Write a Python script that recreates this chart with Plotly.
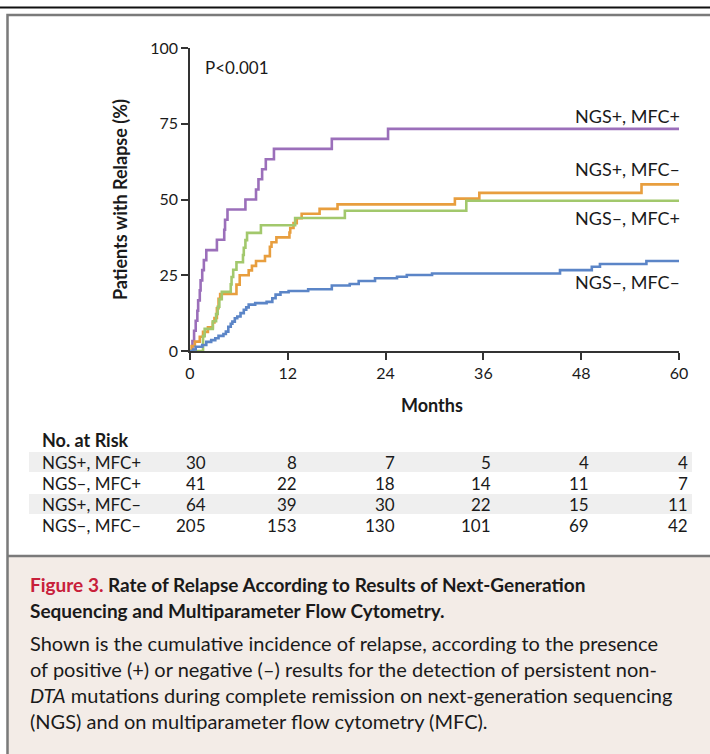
import plotly.graph_objects as go

W, H = 710, 754

# ---- data ----
months_ticks = [0, 12, 24, 36, 48, 60]
y_ticks = [0, 25, 50, 75, 100]

purple_t = [0, 0.3, 0.5, 0.7, 0.9, 1.0, 1.2, 1.3, 1.5, 1.7, 2.0, 3.3, 4.2, 4.3, 4.6, 6.8, 8.1, 8.4, 8.85, 9.3, 10.3, 17.4, 24.3, 60]
purple_y = [0, 3.3, 6.7, 10.0, 13.3, 16.7, 20.0, 23.3, 26.7, 30.0, 33.3, 36.7, 40.0, 43.3, 46.7, 50.0, 53.3, 56.7, 60.0, 63.3, 66.7, 70.0, 73.3, 73.3]

orange_t = [0, 0.2, 0.6, 1.2, 1.6, 2.2, 2.8, 3.0, 3.3, 3.5, 3.7, 5.7, 6.1, 7.2, 7.6, 8.1, 9.2, 9.8, 10.0, 10.6, 12.2, 12.3, 12.7, 13.1, 13.7, 15.9, 18.1, 32.5, 35.5, 55.4, 60]
orange_y = [0, 1.6, 3.1, 4.7, 6.3, 7.8, 9.4, 10.9, 14.1, 17.2, 18.8, 21.9, 25.0, 26.6, 28.1, 29.7, 31.3, 34.4, 35.9, 37.5, 39.1, 40.6, 42.2, 43.8, 45.3, 46.9, 48.4, 50.3, 52.2, 55.0, 55.0]

green_t = [0, 1.6, 1.8, 2.8, 3.2, 3.4, 3.6, 3.9, 5.0, 5.1, 5.3, 5.7, 6.5, 6.6, 6.8, 7.0, 8.7, 12.9, 19.0, 33.9, 60]
green_y = [0, 4.9, 7.3, 9.8, 12.2, 14.6, 17.1, 19.5, 22.0, 24.4, 26.8, 29.3, 31.7, 34.1, 36.6, 39.0, 41.5, 43.9, 46.3, 49.6, 49.6]

blue_t = [0, 0.4, 0.7, 1.5, 2.0, 2.6, 3.1, 3.5, 4.1, 4.4, 4.7, 5.0, 5.2, 5.5, 5.8, 6.2, 6.6, 6.9, 7.2, 8.0, 9.4, 10.1, 10.5, 11.1, 12.1, 14.5, 17.4, 19.6, 20.7, 22.7, 25.4, 26.6, 29.7, 45.4, 49.3, 50.3, 56.0, 60]
blue_y = [0, 0.5, 1.4, 2.0, 3.0, 3.6, 4.2, 5.0, 5.6, 6.4, 8.0, 9.0, 9.7, 10.8, 11.4, 12.5, 13.6, 14.4, 15.3, 15.8, 16.2, 17.4, 18.6, 19.4, 19.8, 20.4, 21.6, 22.1, 23.1, 24.0, 24.5, 25.1, 25.6, 26.7, 27.8, 28.7, 29.7, 29.7]

series_names = ["NGS+, MFC+", "NGS+, MFC\u2013", "NGS\u2013, MFC+", "NGS\u2013, MFC\u2013"]
series_colors = ["#9b6fba", "#e89e3e", "#a2c86c", "#5b85c7"]

risk_labels = ["NGS+, MFC+", "NGS\u2013, MFC+", "NGS+, MFC\u2013", "NGS\u2013, MFC\u2013"]
risk_values = [
    [30, 8, 7, 5, 4, 4],
    [41, 22, 18, 14, 11, 7],
    [64, 39, 30, 22, 15, 11],
    [205, 153, 130, 101, 69, 42],
]

# ---- helpers (window pixel -> paper) ----
def fx(px):
    return px / W

def fy(py):
    return 1 - py / H

X0, X1 = 190, 679
Y0, Y1 = 351, 48

CHART_FONT = "Lato, 'Open Sans', sans-serif"

fig = go.Figure()
for t, y, name, col in [
    (purple_t, purple_y, series_names[0], series_colors[0]),
    (orange_t, orange_y, series_names[1], series_colors[1]),
    (green_t, green_y, series_names[2], series_colors[2]),
    (blue_t, blue_y, series_names[3], series_colors[3]),
]:
    fig.add_trace(go.Scatter(x=t, y=y, mode="lines", line=dict(color=col, width=2.6, shape="hv"),
                             name=name, showlegend=False, hoverinfo="skip"))

shapes = []
shapes.append(dict(type="line", xref="paper", yref="paper", x0=0, x1=1, y0=fy(7.5), y1=fy(7.5),
                   line=dict(color="#111", width=2)))
shapes.append(dict(type="rect", xref="paper", yref="paper", x0=fx(7), x1=fx(720), y0=fy(770), y1=fy(556),
                   fillcolor="#f3ece7", line=dict(width=0), layer="below"))
shapes.append(dict(type="rect", xref="paper", yref="paper", x0=fx(7.5), x1=fx(720), y0=fy(770), y1=fy(15),
                   line=dict(color="#7a7a7a", width=2.5), fillcolor="rgba(0,0,0,0)"))
shapes.append(dict(type="line", xref="paper", yref="paper", x0=fx(7.5), x1=fx(720), y0=fy(556), y1=fy(556),
                   line=dict(color="#7a7a7a", width=2.5)))
for top in (452, 494):
    shapes.append(dict(type="rect", xref="paper", yref="paper", x0=fx(29), x1=fx(692), y0=fy(top + 20), y1=fy(top),
                       fillcolor="#efefef", line=dict(width=0), layer="below"))

annotations = []
def txt(x, y, s, size=14, xanchor="left", family=CHART_FONT, color="#1a1a1a", **kw):
    annotations.append(dict(xref="paper", yref="paper", x=fx(x), y=fy(y), text=s, showarrow=False,
                            xanchor=xanchor, yanchor="middle", borderpad=0,
                            font=dict(size=size, family=family, color=color), **kw))

txt(204, 68, "P<0.001", size=17)
label_y = [116, 169, 218, 282]
for s, yy in zip(series_names, label_y):
    txt(681, yy, s, size=18, xanchor="right")

txt(432, 405, "<b>Months</b>", size=18, xanchor="center")
txt(120, 200, "<b>Patients with Relapse (%)</b>", size=18, xanchor="center", textangle=-90)

# risk table
txt(41, 440, "<b>No. at Risk</b>", size=18)
col_right = [207, 298, 396, 492, 590, 689]
row_y = [462, 483, 504, 525]
for lab, vals, yy in zip(risk_labels, risk_values, row_y):
    txt(41, yy, lab, size=17)
    for v, xr in zip(vals, col_right):
        txt(xr, yy, str(v), size=17, xanchor="right")

# caption
txt(29, 584, "<b><span style='color:#c8203a'>Figure 3.</span> Rate of Relapse According to Results of Next-Generation</b>",
    size=19)
txt(29, 610, "<b>Sequencing and Multiparameter Flow Cytometry.</b>", size=19)
cap_lines = [
    "Shown is the cumulative incidence of relapse, according to the presence",
    "of positive (+) or negative (\u2013) results for the detection of persistent non-",
    "<i>DTA</i> mutations during complete remission on next-generation sequencing",
    "(NGS) and on multiparameter flow cytometry (MFC).",
]
for i, s in enumerate(cap_lines):
    txt(29, 643 + 26 * i, s, size=20)

fig.update_layout(
    width=W, height=H, margin=dict(l=0, r=0, t=0, b=0, pad=0, autoexpand=False),
    paper_bgcolor="white", plot_bgcolor="white",
    shapes=shapes, annotations=annotations,
    xaxis=dict(domain=[fx(X0), fx(X1)], range=[0, 60], tickvals=months_ticks, ticks="outside", ticklen=7,
               tickwidth=1.5, tickcolor="#333", showline=True, linecolor="#333", linewidth=1.5, automargin=False,
               showgrid=False, zeroline=False, tickfont=dict(size=16, family=CHART_FONT, color="#1a1a1a")),
    yaxis=dict(domain=[fy(Y0), fy(Y1)], range=[0, 100], tickvals=y_ticks, ticks="outside", ticklen=7,
               tickwidth=1.5, tickcolor="#333", showline=True, linecolor="#333", linewidth=1.5, automargin=False,
               showgrid=False, zeroline=False, tickfont=dict(size=16, family=CHART_FONT, color="#1a1a1a")),
)

fig.write_html("out.html")
